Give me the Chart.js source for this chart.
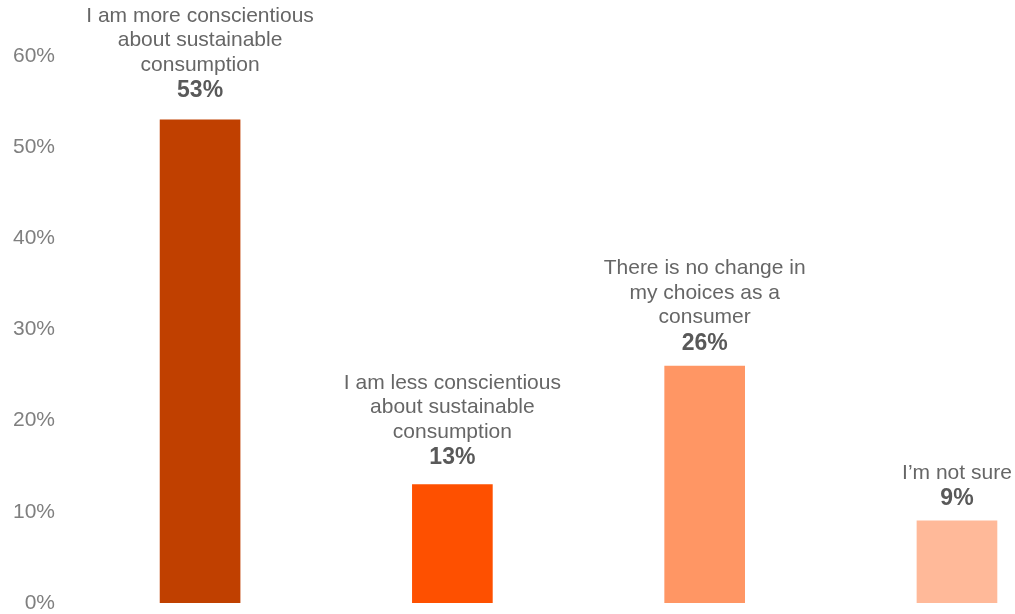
<!DOCTYPE html>
<html>
<head>
<meta charset="utf-8">
<script src="https://cdn.jsdelivr.net/npm/chart.js@4/dist/chart.umd.min.js"></script>
<style>
  html, body { margin: 0; padding: 0; background: #ffffff; overflow: hidden; }
  #wrap { position: relative; width: 1015px; height: 614px; }
</style>
</head>
<body>
<div id="wrap"><canvas id="c"></canvas></div>
<script>
// Survey answers, one bar each
const categories = [
  ["I am more conscientious", "about sustainable", "consumption"],
  ["I am less conscientious", "about sustainable", "consumption"],
  ["There is no change in", "my choices as a", "consumer"],
  ["I\u2019m not sure"]
];
const shares = [53, 13, 26, 9];
const barColors = ["#C04000", "#FE5000", "#FF9664", "#FFB999"];
const yTicks = [0, 10, 20, 30, 40, 50, 60];

const FONT = "'Liberation Sans', Arial, Helvetica, sans-serif";

// Category text and bold percentage stacked above each bar
const barLabels = {
  id: 'barLabels',
  afterDatasetsDraw(chart, args, opts) {
    const ctx = chart.ctx;
    const meta = chart.getDatasetMeta(0);
    ctx.save();
    ctx.textAlign = 'center';
    ctx.textBaseline = 'alphabetic';
    meta.data.forEach((bar, i) => {
      const x = bar.x;
      const valueBase = bar.y - opts.gaps[i];
      ctx.font = 'bold 23px ' + FONT;
      ctx.fillStyle = '#595959';
      ctx.fillText(shares[i] + '%', x, valueBase);
      ctx.font = '21px ' + FONT;
      ctx.fillStyle = '#666666';
      const lines = categories[i];
      const n = lines.length;
      lines.forEach((line, k) => {
        const base = valueBase - 26.5 - (n - 1 - k) * 24.5;
        ctx.fillText(line, x, base);
      });
    });
    ctx.restore();
  }
};

new Chart(document.getElementById('c'), {
  type: 'bar',
  data: {
    datasets: [{
      data: shares.map((v, i) => ({ x: i, y: v })),
      backgroundColor: barColors,
      borderWidth: 0,
      barThickness: 80
    }]
  },
  options: {
    responsive: true,
    maintainAspectRatio: false,
    animation: false,
    events: [],
    layout: { padding: { top: 56, bottom: 11, left: 0, right: 0 } },
    plugins: {
      legend: { display: false },
      tooltip: { enabled: false },
      barLabels: { gaps: [22.7, 20, 16.3, 15.7] }
    },
    scales: {
      x: {
        type: 'linear',
        min: -0.575,
        max: 3.23,
        offset: false,
        display: false
      },
      y: {
        min: 0,
        max: 60,
        afterBuildTicks(scale) { scale.ticks = yTicks.map(v => ({ value: v })); },
        afterFit(scale) { scale.width = 55; },
        grid: { display: false, drawTicks: false },
        border: { display: false },
        ticks: {
          padding: 0,
          color: '#7F7F7F',
          font: { family: FONT, size: 21, lineHeight: 1 },
          callback: v => v + '%'
        }
      }
    }
  },
  plugins: [barLabels]
});
</script>
</body>
</html>
